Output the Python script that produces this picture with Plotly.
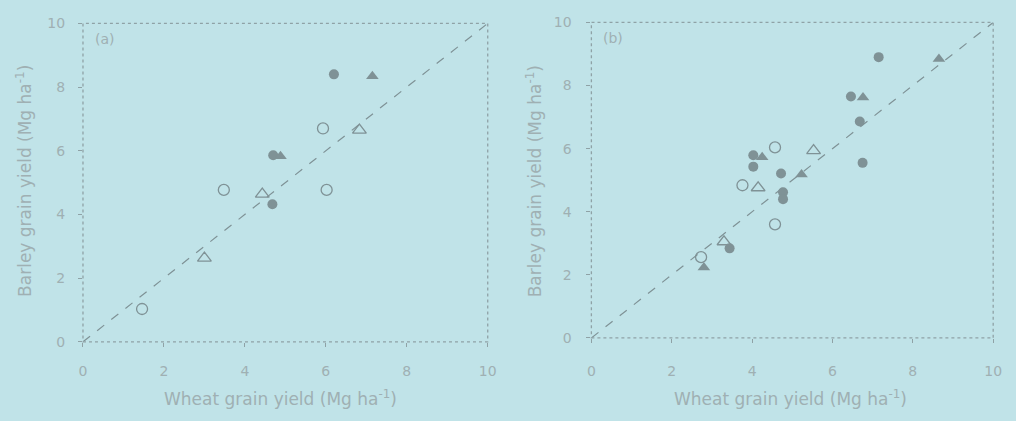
import plotly.graph_objects as go

# Panel (a): wheat vs barley grain yield (Mg/ha)
a_open_circle_x = [5.93, 3.48, 6.02, 1.46]
a_open_circle_y = [6.70, 4.77, 4.77, 1.03]
a_open_tri_x = [6.83, 4.43, 3.00]
a_open_tri_y = [6.65, 4.64, 2.63]
a_fill_circle_x = [6.20, 4.70, 4.68]
a_fill_circle_y = [8.40, 5.86, 4.32]
a_fill_tri_x = [7.15, 4.88]
a_fill_tri_y = [8.34, 5.83]

# Panel (b)
b_open_circle_x = [4.57, 3.76, 4.57, 2.73]
b_open_circle_y = [6.04, 4.84, 3.60, 2.56]
b_open_tri_x = [5.53, 4.15, 3.30]
b_open_tri_y = [5.94, 4.76, 3.05]
b_fill_circle_x = [7.15, 6.46, 6.68, 4.03, 4.03, 4.72, 4.77, 4.77, 3.44, 6.75]
b_fill_circle_y = [8.90, 7.65, 6.86, 5.79, 5.43, 5.21, 4.62, 4.40, 2.84, 5.55]
b_fill_tri_x = [8.65, 6.76, 4.25, 5.23, 2.80]
b_fill_tri_y = [8.84, 7.62, 5.73, 5.18, 2.23]

one_to_one = [0, 10]
tick_vals = [0, 2, 4, 6, 8, 10]

BG = "#c0e3e8"
MARK = "#7f9296"
TEXT = "#9fb0b3"
FRAME = "#8fa2a6"
FONT = "DejaVu Sans, Verdana, sans-serif"

fig = go.Figure()


def add_panel(xa, ya, oc, ot, fc, ft):
    fig.add_trace(go.Scatter(x=one_to_one, y=one_to_one, mode="lines",
                             line=dict(color=MARK, width=1.2, dash="dash"),
                             xaxis=xa, yaxis=ya, showlegend=False))
    fig.add_trace(go.Scatter(x=oc[0], y=oc[1], mode="markers",
                             marker=dict(symbol="circle-open", size=11, color=MARK,
                                         line=dict(width=1.3, color=MARK)),
                             xaxis=xa, yaxis=ya, showlegend=False))
    fig.add_trace(go.Scatter(x=ot[0], y=ot[1], mode="markers",
                             marker=dict(symbol="triangle-up-open", size=12, color=MARK,
                                         line=dict(width=1.3, color=MARK)),
                             xaxis=xa, yaxis=ya, showlegend=False))
    fig.add_trace(go.Scatter(x=fc[0], y=fc[1], mode="markers",
                             marker=dict(symbol="circle", size=10, color=MARK,
                                         line=dict(width=0)),
                             xaxis=xa, yaxis=ya, showlegend=False))
    fig.add_trace(go.Scatter(x=ft[0], y=ft[1], mode="markers",
                             marker=dict(symbol="triangle-up", size=11, color=MARK,
                                         line=dict(width=0)),
                             xaxis=xa, yaxis=ya, showlegend=False))


add_panel("x", "y", (a_open_circle_x, a_open_circle_y), (a_open_tri_x, a_open_tri_y),
          (a_fill_circle_x, a_fill_circle_y), (a_fill_tri_x, a_fill_tri_y))
add_panel("x2", "y2", (b_open_circle_x, b_open_circle_y), (b_open_tri_x, b_open_tri_y),
          (b_fill_circle_x, b_fill_circle_y), (b_fill_tri_x, b_fill_tri_y))

axis_common = dict(range=[0, 10], tickvals=tick_vals, showgrid=False, zeroline=False,
                   showline=False, ticks="outside", ticklen=4, tickcolor=FRAME,
                   tickfont=dict(family=FONT, size=14, color=TEXT))

W, H = 1016, 421
fig.update_layout(
    width=W, height=H,
    margin=dict(l=0, r=0, t=0, b=0),
    paper_bgcolor=BG, plot_bgcolor=BG,
    xaxis=dict(domain=[80 / W, 490 / W], anchor="y", ticklabelstandoff=12, **axis_common),
    yaxis=dict(domain=[1 - 347 / H, 1 - 16 / H], anchor="x", ticklabelstandoff=10, **axis_common),
    xaxis2=dict(domain=[595 / W, 1002 / W], anchor="y2", ticklabelstandoff=16, **axis_common),
    yaxis2=dict(domain=[1 - 343 / H, 1 - 15 / H], anchor="x2", ticklabelstandoff=12, **axis_common),
)

# dotted frames around each panel
for xr, yr in (("x domain", "y domain"), ("x2 domain", "y2 domain")):
    fig.add_shape(type="rect", xref=xr, yref=yr, x0=0, x1=1, y0=0, y1=1,
                  line=dict(color=FRAME, width=1.3, dash="dot"))

title_font = dict(family=FONT, size=17, color=TEXT)
label_font = dict(family=FONT, size=14, color=TEXT)

fig.add_annotation(text="(a)", x=0.025, y=0.952, xref="x domain", yref="y domain",
                   showarrow=False, xanchor="left", yanchor="middle", font=label_font)
fig.add_annotation(text="(b)", x=0.025, y=0.952, xref="x2 domain", yref="y2 domain",
                   showarrow=False, xanchor="left", yanchor="middle", font=label_font)

for cx, cy, txt, ang in (
    (280, 405, "Wheat grain yield (Mg ha<sup>-1</sup>)", 0),
    (797, 405, "Wheat grain yield (Mg ha<sup>-1</sup>)", 0),
    (20, 180, "Barley grain yield (Mg ha<sup>-1</sup>)", -90),
    (537, 180, "Barley grain yield (Mg ha<sup>-1</sup>)", -90),
):
    fig.add_annotation(text=txt, x=cx / W, y=1 - cy / H, xref="paper", yref="paper",
                       xanchor="center", yanchor="middle", showarrow=False,
                       textangle=ang, font=title_font)

fig.write_html("out.html")
